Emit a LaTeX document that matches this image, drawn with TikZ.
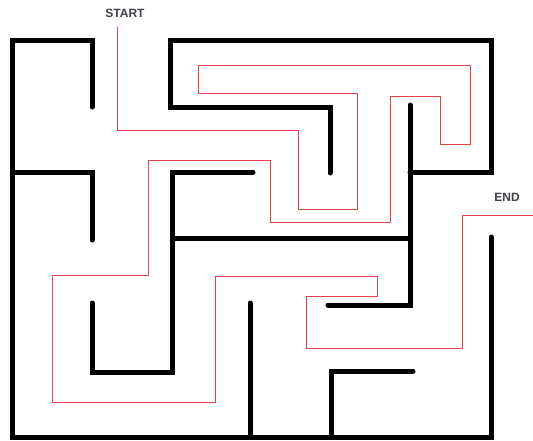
\documentclass[tikz,border=0pt]{standalone}
\usepackage{fontspec}
\setsansfont{Liberation Sans}
\usetikzlibrary{positioning}
\definecolor{routered}{RGB}{232,64,76}
\definecolor{labelgray}{RGB}{64,64,72}
\tikzset{
  wall/.style={line width=5pt, black, line cap=round, line join=miter},
  route/.style={line width=1pt, routered, line join=miter},
  mark label/.style={font=\sffamily\bfseries\fontsize{12}{14}\selectfont, text=labelgray, inner sep=0pt}
}

\begin{document}
\begin{tikzpicture}[x=1pt, y=-1pt]
  \useasboundingbox (0,0) rectangle (533,440);
  % labels
  \node[mark label] (start) at (125,13) {START};
  \node[mark label] (end) at (507,197) {END};
  % maze walls
  \draw[wall] (92,107) -- (92,40) -- (12,40) -- (12,437) -- (491,437) -- (491,237);
  \draw[wall] (14,172) -- (92,172) -- (92,240);
  \draw[wall] (330,173) -- (330,107) -- (170,107) -- (170,40) -- (491,40) -- (491,172) -- (410,172);
  \draw[wall] (410,105) -- (410,305) -- (328,305);
  \draw[wall] (174,238) -- (408,238);
  \draw[wall] (253,172) -- (172,172) -- (172,372) -- (92,372) -- (92,303);
  \draw[wall] (250,303) -- (250,435);
  \draw[wall] (413,371) -- (331,371) -- (331,435);
  % solution route
  \draw[route] (117,27) -- (117,130) -- (298,130) -- (298,209) -- (357,209)
    -- (357,93) -- (198,93) -- (198,65) -- (470,65) -- (470,144) -- (440,144)
    -- (440,96) -- (390,96) -- (390,222) -- (270,222) -- (270,160) -- (148,160)
    -- (148,275) -- (52,275) -- (52,402) -- (215,402) -- (215,276) -- (377,276)
    -- (377,296) -- (306,296) -- (306,348) -- (462,348) -- (462,215) -- (533,215);
\end{tikzpicture}
\end{document}
